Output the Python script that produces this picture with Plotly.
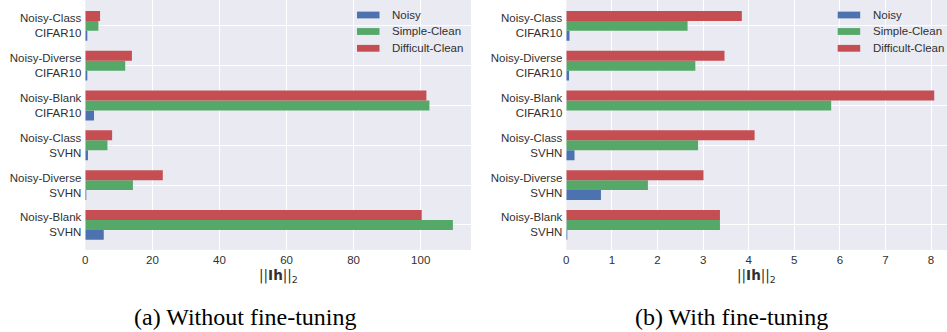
import plotly.graph_objects as go

W, H = 947, 332

# Categories listed bottom-up (first entry sits at the bottom of each panel)
categories = [
    "Noisy-Blank<br>SVHN",
    "Noisy-Diverse<br>SVHN",
    "Noisy-Class<br>SVHN",
    "Noisy-Blank<br>CIFAR10",
    "Noisy-Diverse<br>CIFAR10",
    "Noisy-Class<br>CIFAR10",
]
series_names = ["Noisy", "Simple-Clean", "Difficult-Clean"]
series_colors = ["#4C72B0", "#55A868", "#C44E52"]

# (a) Without fine-tuning
noisy_a = [5.5, 0.1, 0.8, 2.6, 0.4, 0.5]
simple_a = [109.6, 14.2, 6.6, 102.6, 11.9, 3.9]
difficult_a = [100.3, 23.1, 8.0, 101.7, 13.9, 4.4]

# (b) With fine-tuning
noisy_b = [0.02, 0.76, 0.18, 0.0, 0.06, 0.07]
simple_b = [3.37, 1.79, 2.89, 5.81, 2.83, 2.66]
difficult_b = [3.37, 3.01, 4.13, 8.07, 3.47, 3.85]

x_ticks_a = [0, 20, 40, 60, 80, 100]
x_ticks_b = [0, 1, 2, 3, 4, 5, 6, 7, 8]

captions = ["(a) Without fine-tuning", "(b) With fine-tuning"]
x_title = "||<b>Ih</b>||<sub>2</sub>"

BG = "#EAEAF2"
TXT = "#303030"
SANS = "Liberation Sans, Arial, sans-serif"


def px_x(p):
    return p / W


def px_y(p):
    return 1 - p / H


dom_a = [px_x(85.3), px_x(471)]
dom_b = [px_x(566.3), 1.0]
dom_y = [px_y(250), 1.0]

fig = go.Figure()

panels = [
    ("x", "y", [noisy_a, simple_a, difficult_a]),
    ("x2", "y2", [noisy_b, simple_b, difficult_b]),
]
for xa, ya, values in panels:
    for name, color, vals in zip(series_names, series_colors, values):
        fig.add_trace(go.Bar(
            x=vals, y=categories, orientation="h", name=name,
            marker=dict(color=color, line=dict(width=0)),
            xaxis=xa, yaxis=ya, showlegend=False,
        ))

axis_common = dict(
    showgrid=True, gridcolor="white", gridwidth=1, zeroline=False,
    showline=False, ticks="", automargin=False,
    tickfont=dict(family=SANS, size=11.5, color=TXT),
)

fig.update_layout(
    width=W, height=H,
    margin=dict(l=0, r=0, t=0, b=0),
    paper_bgcolor="white", plot_bgcolor=BG,
    barmode="group", bargap=0.25, bargroupgap=0,
    showlegend=False,
    xaxis=dict(domain=dom_a, anchor="y", range=[0, 115], tickvals=x_ticks_a,
               ticklabelstandoff=1, **axis_common),
    yaxis=dict(domain=dom_y, anchor="x", range=[-0.63, 5.65],
               categoryorder="array", categoryarray=categories,
               ticklabelstandoff=3, **axis_common),
    xaxis2=dict(domain=dom_b, anchor="y2", range=[0, 8.35], tickvals=x_ticks_b,
                ticklabelstandoff=1, **axis_common),
    yaxis2=dict(domain=dom_y, anchor="x2", range=[-0.63, 5.65],
                categoryorder="array", categoryarray=categories,
                ticklabelstandoff=3, **axis_common),
)

# Axis titles under each panel
for dom in [dom_a, dom_b]:
    cx = (dom[0] + dom[1]) / 2
    fig.add_annotation(x=cx, y=px_y(276), xref="paper", yref="paper",
                       text=x_title, showarrow=False, xanchor="center", yanchor="middle",
                       font=dict(family="DejaVu Sans", size=13.5, color=TXT))

# Sub-figure captions
for cx_px, cap in zip([245, 731], captions):
    fig.add_annotation(x=px_x(cx_px), y=px_y(317), xref="paper", yref="paper",
                       text=cap, showarrow=False, xanchor="center", yanchor="middle",
                       font=dict(family="Liberation Serif, Times New Roman, serif", size=24, color="black"))

# Legend boxes drawn inside each panel (upper right)
legend_rows = [15, 31.5, 48.3]
for patch_x0 in [357, 837.7]:
    for name, color, yc in zip(series_names, series_colors, legend_rows):
        fig.add_shape(type="rect", xref="paper", yref="paper",
                      x0=px_x(patch_x0), x1=px_x(patch_x0 + 22.5),
                      y0=px_y(yc + 3.4), y1=px_y(yc - 3.4),
                      fillcolor=color, line=dict(width=0), layer="above")
        fig.add_annotation(x=px_x(patch_x0 + 33), y=px_y(yc), xref="paper", yref="paper",
                           text=name, showarrow=False, xanchor="left", yanchor="middle",
                           font=dict(family=SANS, size=11.5, color=TXT))

fig.write_html("out.html")
